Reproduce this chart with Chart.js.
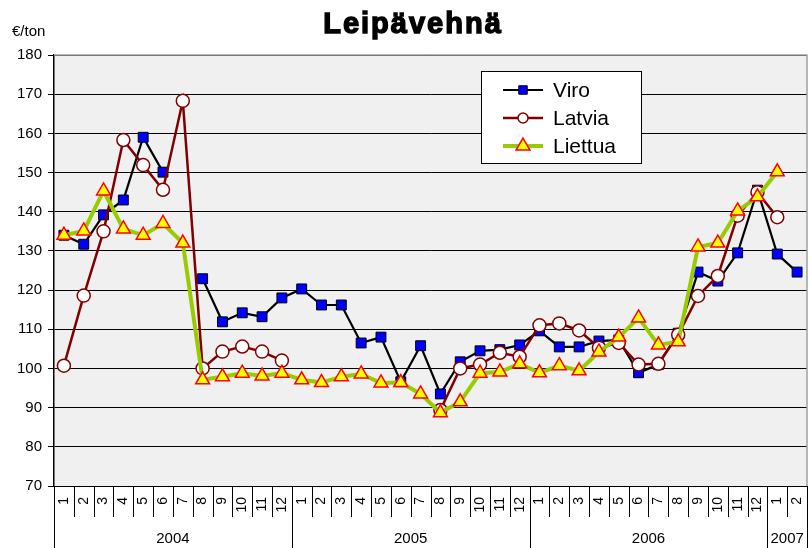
<!DOCTYPE html>
<html>
<head>
<meta charset="utf-8">
<script src="https://cdn.jsdelivr.net/npm/chart.js@4.4.1/dist/chart.umd.min.js"></script>
<style>
  html, body { margin: 0; padding: 0; background: #ffffff; }
  #wrap { width: 810px; height: 548px; }
</style>
</head>
<body>
<div id="wrap"><canvas id="chart" width="810" height="548"></canvas></div>
<script>
// Kuukaudet 2004/1 - 2007/2
const monthLabels = ['1','2','3','4','5','6','7','8','9','10','11','12',
                     '1','2','3','4','5','6','7','8','9','10','11','12',
                     '1','2','3','4','5','6','7','8','9','10','11','12',
                     '1','2'];
const years = ['2004', '2005', '2006', '2007'];
const monthsPerYear = [12, 12, 12, 2];

const viro = [134, 131.7, 139.2, 143, 159, 150.1, null, 122.9, 111.9, 114.2, 113.2, 118,
              120.3, 116.2, 116.2, 106.5, 108, 96.6, 105.8, 93.5, 101.7, 104.5, 104.8, 106,
              109.6, 105.5, 105.5, 107, 107.3, 98.9, 101, 109, 124.6, 122.3, 129.5, 145.5,
              129.2, 124.6];
const latvia = [100.7, 118.6, 135, 158.3, 151.9, 145.6, 168.3, 100, 104.3, 105.6, 104.3, 102,
                null, null, null, null, null, null, null, 89.4, 100, 101, 104, 103,
                111, 111.5, 109.7, 105.3, 106.5, 101, 101.2, 108.6, 118.5, 123.6, 139, 145,
                138.6, null];
const liettua = [134, 135.1, 145.3, 135.6, 134, 137, 132, 97.1, 97.9, 98.8, 98.1, 98.8,
                 97.1, 96.4, 97.9, 98.6, 96.3, 96.4, 93.5, 88.7, 91.5, 98.8, 99.1, 101.2,
                 98.9, 100.7, 99.4, 104.2, 108, 112.9, 106, 106.8, 131, 132, 140.2, 143.8,
                 150.2, null];

const yMin = 70, yMax = 180, yStep = 10;
const FONT = '"Liberation Sans", Arial, sans-serif';

// Piirtoalueen tausta + otsikko, yksikkö, vuosirivi ja selite
const decorPlugin = {
    id: 'decor',
    beforeDraw(chart) {
        const a = chart.chartArea;
        const ctx = chart.ctx;
        ctx.save();
        ctx.fillStyle = '#f0f0f0';
        ctx.fillRect(a.left, a.top, a.right - a.left, a.bottom - a.top);
        ctx.restore();
    },
    afterDraw(chart) {
        const ctx = chart.ctx;
        const a = chart.chartArea;
        const x = chart.scales.x;
        ctx.save();

        // ylä- ja oikea reuna harmaana
        ctx.strokeStyle = '#a0a0a0';
        ctx.lineWidth = 1.5;
        ctx.beginPath();
        ctx.moveTo(a.left, a.top);
        ctx.lineTo(a.right, a.top);
        ctx.lineTo(a.right, a.bottom);
        ctx.stroke();

        // otsikko (paksumpi kuin tavallinen bold)
        ctx.fillStyle = '#000';
        ctx.strokeStyle = '#000';
        ctx.lineWidth = 1.4;
        ctx.font = 'bold 29px ' + FONT;
        ctx.letterSpacing = '2px';
        ctx.textAlign = 'center';
        ctx.textBaseline = 'middle';
        ctx.fillText('Leipävehnä', 413, 25);
        ctx.strokeText('Leipävehnä', 413, 25);
        ctx.letterSpacing = '0px';

        ctx.font = '15px ' + FONT;
        ctx.textAlign = 'left';
        ctx.fillText('€/ton', 12, 32);

        // kuukausien väliviivat ja vuodet
        const n = monthLabels.length;
        const w = (x.getPixelForValue(1) - x.getPixelForValue(0));
        const edge = i => x.getPixelForValue(0) - w / 2 + i * w;
        ctx.strokeStyle = '#000';
        ctx.lineWidth = 1;
        const yearEdges = [0];
        monthsPerYear.forEach((m, k) => yearEdges.push(yearEdges[k] + m));
        for (let i = 0; i <= n; i++) {
            const px = Math.round(edge(i)) + 0.5;
            const long = yearEdges.includes(i);
            ctx.beginPath();
            ctx.moveTo(px, a.bottom);
            ctx.lineTo(px, long ? 548 : a.bottom + 31);
            ctx.stroke();
        }
        ctx.fillStyle = '#000';
        ctx.font = '15px ' + FONT;
        ctx.textAlign = 'center';
        years.forEach((yr, k) => {
            const cx = (edge(yearEdges[k]) + edge(yearEdges[k + 1])) / 2;
            ctx.fillText(yr, cx, 539);
        });

        // selite
        const lx = 481, ly = 71, lw = 160, lh = 92;
        ctx.fillStyle = '#ffffff';
        ctx.fillRect(lx, ly, lw, lh);
        ctx.strokeStyle = '#000';
        ctx.lineWidth = 1;
        ctx.strokeRect(lx + 0.5, ly + 0.5, lw, lh);
        chart.data.datasets.forEach((ds, k) => {
            const cy = 90 + k * 28;
            ctx.strokeStyle = ds.borderColor;
            ctx.lineWidth = ds.borderWidth;
            ctx.beginPath();
            ctx.moveTo(503, cy);
            ctx.lineTo(543, cy);
            ctx.stroke();
            ctx.fillStyle = ds.pointBackgroundColor;
            ctx.strokeStyle = ds.pointBorderColor;
            ctx.lineWidth = ds.pointBorderWidth;
            Chart.helpers.drawPoint(ctx, {
                pointStyle: ds.pointStyle,
                radius: ds.legendRadius,
                borderWidth: ds.pointBorderWidth
            }, 523, cy);
            ctx.fillStyle = '#000';
            ctx.font = '21px ' + FONT;
            ctx.textAlign = 'left';
            ctx.textBaseline = 'middle';
            ctx.fillText(ds.label, 553, cy + 1);
        });
        ctx.restore();
    }
};

const ctx = document.getElementById('chart').getContext('2d');
const chart = new Chart(ctx, {
    type: 'line',
    data: {
        labels: monthLabels,
        datasets: [{
            label: 'Viro',
            data: viro,
            borderColor: '#000000',
            borderWidth: 2.2,
            pointStyle: 'rect',
            pointRadius: 7,
            legendRadius: 6,
            pointBackgroundColor: '#0000ff',
            pointBorderColor: '#000000',
            pointBorderWidth: 1,
            order: 3
        }, {
            label: 'Latvia',
            data: latvia,
            borderColor: '#800000',
            borderWidth: 2.5,
            pointStyle: 'circle',
            pointRadius: 6.5,
            legendRadius: 5,
            pointBackgroundColor: '#ffffff',
            pointBorderColor: '#800000',
            pointBorderWidth: 1.5,
            order: 2
        }, {
            label: 'Liettua',
            data: liettua,
            borderColor: '#99cc00',
            borderWidth: 4,
            pointStyle: 'triangle',
            pointRadius: 8,
            legendRadius: 8,
            pointBackgroundColor: '#ffff00',
            pointBorderColor: '#ff0000',
            pointBorderWidth: 1.5,
            order: 1
        }]
    },
    options: {
        responsive: false,
        animation: false,
        layout: {
            autoPadding: false,
            padding: { top: 55, right: 3, left: 0, bottom: 0 }
        },
        plugins: {
            legend: { display: false },
            title: { display: false },
            tooltip: { enabled: false }
        },
        elements: { line: { tension: 0 } },
        scales: {
            x: {
                type: 'category',
                offset: true,
                grid: { display: false },
                border: { display: false },
                ticks: {
                    autoSkip: false,
                    maxRotation: 90,
                    minRotation: 90,
                    padding: 3,
                    color: '#000',
                    font: { family: FONT, size: 14 }
                },
                afterFit(scale) {
                    scale.height = 62;
                    scale.paddingLeft = 0;
                    scale.paddingRight = 0;
                }
            },
            y: {
                min: yMin,
                max: yMax,
                ticks: {
                    stepSize: yStep,
                    color: '#000',
                    padding: 6,
                    font: { family: FONT, size: 15 }
                },
                grid: {
                    color: '#000',
                    lineWidth: 1,
                    tickLength: 6,
                    tickColor: '#000'
                },
                border: { color: '#000', width: 1.5 },
                afterFit(scale) {
                    scale.width = 54;
                    scale.paddingTop = 0;
                    scale.paddingBottom = 0;
                }
            }
        }
    },
    plugins: [decorPlugin]
});
</script>
</body>
</html>
